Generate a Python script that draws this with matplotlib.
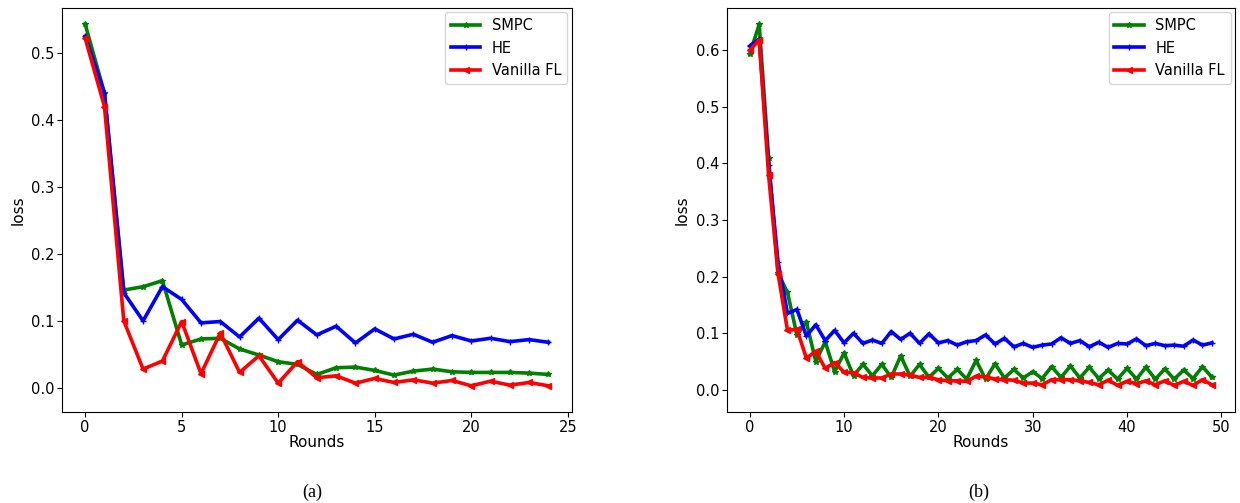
import matplotlib.pyplot as plt
import numpy as np

# ---------------------------------------------------------
# data (loss per round)
# ---------------------------------------------------------
rounds_a = np.arange(25)
smpc_a = [0.543, 0.44, 0.146, 0.151, 0.160, 0.064, 0.073, 0.074, 0.058, 0.049,
          0.039, 0.035, 0.020, 0.030, 0.031, 0.026, 0.019, 0.025, 0.028, 0.024,
          0.023, 0.023, 0.023, 0.022, 0.020]
he_a = [0.525, 0.44, 0.142, 0.100, 0.151, 0.132, 0.097, 0.099, 0.076, 0.104,
        0.072, 0.101, 0.079, 0.092, 0.067, 0.088, 0.073, 0.080, 0.068, 0.078,
        0.070, 0.074, 0.069, 0.072, 0.068]
vanilla_a = [0.522, 0.42, 0.100, 0.028, 0.040, 0.099, 0.021, 0.082, 0.023, 0.048,
             0.007, 0.039, 0.015, 0.018, 0.007, 0.014, 0.008, 0.012, 0.007, 0.011,
             0.003, 0.010, 0.004, 0.008, 0.003]

rounds_b = np.arange(50)
smpc_b = [0.593, 0.645, 0.409, 0.206, 0.172, 0.097, 0.120, 0.050, 0.085, 0.032,
          0.065, 0.025, 0.045, 0.025, 0.045, 0.022, 0.060, 0.024, 0.045, 0.022,
          0.038, 0.021, 0.036, 0.019, 0.052, 0.019, 0.046, 0.021, 0.036, 0.021,
          0.032, 0.020, 0.041, 0.022, 0.042, 0.021, 0.040, 0.020, 0.035, 0.019,
          0.038, 0.019, 0.040, 0.019, 0.037, 0.019, 0.035, 0.020, 0.041, 0.022]
he_b = [0.607, 0.619, 0.397, 0.226, 0.135, 0.142, 0.095, 0.115, 0.087, 0.105,
        0.083, 0.100, 0.082, 0.088, 0.082, 0.103, 0.089, 0.100, 0.082, 0.099,
        0.083, 0.087, 0.079, 0.085, 0.087, 0.097, 0.081, 0.091, 0.076, 0.082,
        0.075, 0.079, 0.081, 0.092, 0.082, 0.087, 0.076, 0.084, 0.075, 0.082,
        0.081, 0.090, 0.078, 0.082, 0.078, 0.079, 0.077, 0.088, 0.079, 0.083]
vanilla_b = [0.600, 0.617, 0.379, 0.205, 0.105, 0.107, 0.056, 0.068, 0.038, 0.048,
             0.031, 0.030, 0.022, 0.021, 0.021, 0.028, 0.028, 0.026, 0.022, 0.022,
             0.018, 0.016, 0.016, 0.015, 0.024, 0.023, 0.019, 0.018, 0.017, 0.012,
             0.012, 0.009, 0.018, 0.018, 0.018, 0.016, 0.013, 0.009, 0.017, 0.008,
             0.015, 0.011, 0.016, 0.009, 0.016, 0.008, 0.015, 0.008, 0.018, 0.009]

labels = ["SMPC", "HE", "Vanilla FL"]
captions = ["(a)", "(b)"]


def plot_panel(ax, x, series, ylim):
    styles = [("green", "*"), ("blue", "+"), ("red", "<")]
    for y, lab, (c, m) in zip(series, labels, styles):
        ax.plot(x, y, color=c, marker=m, markersize=4, linewidth=2.6, label=lab)
    ax.set_ylim(*ylim)
    ax.set_xlabel("Rounds", fontsize=11, labelpad=0)
    ax.set_ylabel("loss", fontsize=11)
    ax.tick_params(labelsize=10.5, pad=2)
    ax.legend(loc="upper right", fontsize=10.5, borderaxespad=0.3)


fig = plt.figure(figsize=(12.4, 5.03), dpi=100)
ax1 = fig.add_axes([0.050, 0.181, 0.411, 0.803])
ax2 = fig.add_axes([0.586, 0.181, 0.410, 0.803])

plot_panel(ax1, rounds_a, [smpc_a, he_a, vanilla_a], (-0.036, 0.567))
plot_panel(ax2, rounds_b, [smpc_b, he_b, vanilla_b], (-0.039, 0.674))

fig.text(0.252, 0.012, captions[0], ha="center", fontsize=13, family="Liberation Serif")
fig.text(0.789, 0.012, captions[1], ha="center", fontsize=13, family="Liberation Serif")

fig.savefig("out.png", dpi=100)
